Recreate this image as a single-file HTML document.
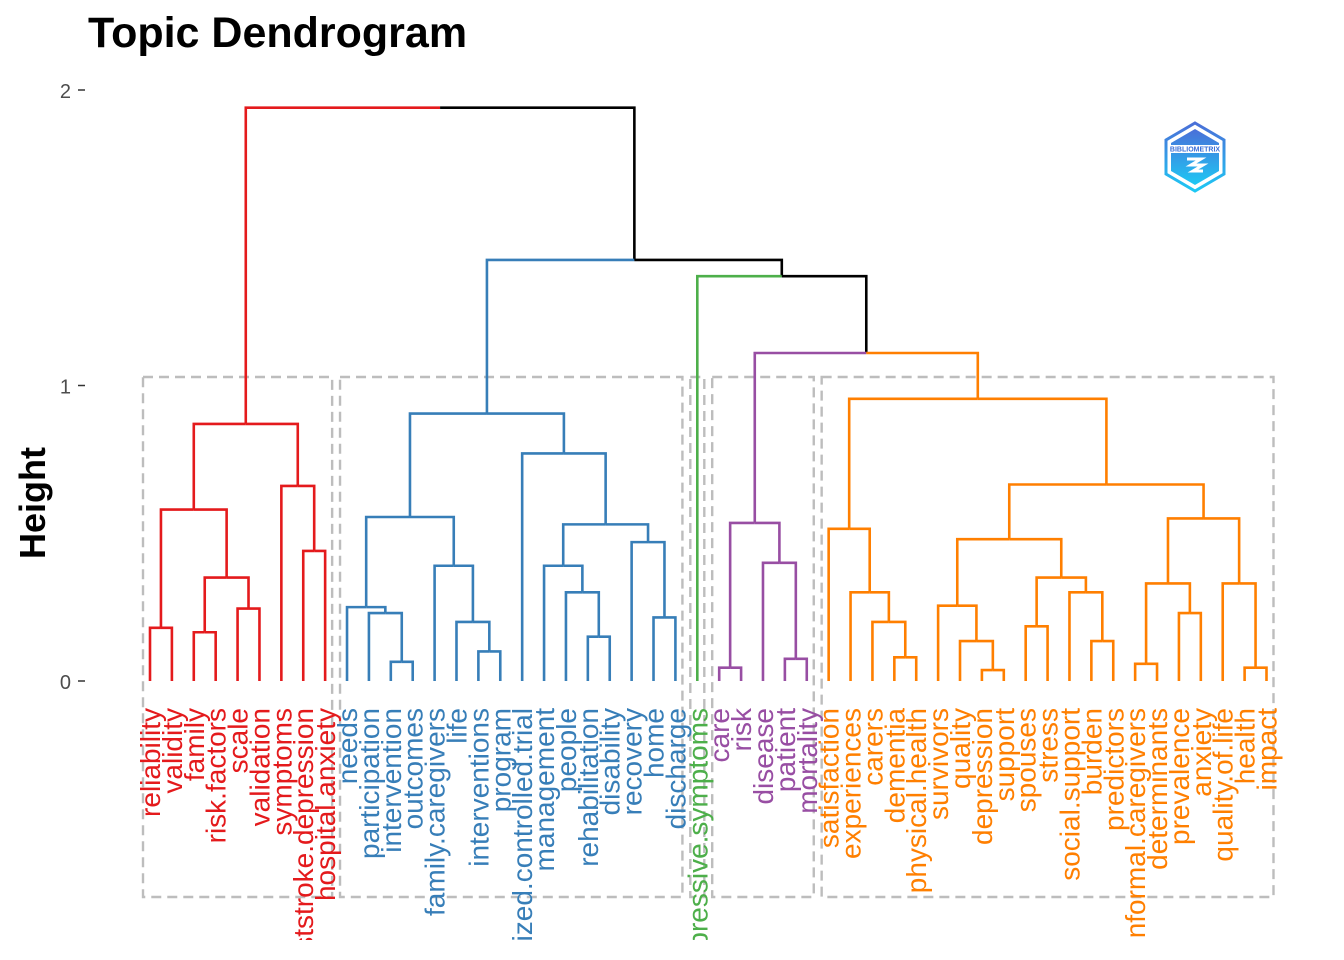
<!DOCTYPE html>
<html><head><meta charset="utf-8"><style>
html,body{margin:0;padding:0;background:#fff;width:1344px;height:960px;overflow:hidden;}
svg{display:block;font-family:"Liberation Sans",Arial,sans-serif;}
</style></head><body>
<svg id="chart" width="1344" height="960" viewBox="0 0 1344 960" xmlns="http://www.w3.org/2000/svg">
<defs><clipPath id="clip"><rect x="0" y="0" width="1344" height="940"/></clipPath>
<linearGradient id="lg" x1="0" y1="0" x2="0" y2="1"><stop offset="0" stop-color="#4a6fd8"/><stop offset="1" stop-color="#1ec8f4"/></linearGradient></defs>
<text x="88" y="47" font-size="43" font-weight="bold" fill="#000">Topic Dendrogram</text>
<text transform="translate(45,503) rotate(-90)" text-anchor="middle" font-size="36" font-weight="bold" fill="#000">Height</text>
<g id="axis"></g>
<g id="boxes"></g>
<g id="tree"></g>
<g id="labels" clip-path="url(#clip)"></g>
<g transform="translate(1195,157)">
<polygon points="0,-34 29,-17 29,17 0,34 -29,17 -29,-17" fill="none" stroke="url(#lg)" stroke-width="3"/>
<polygon points="0,-28 24,-14 24,14 0,28 -24,14 -24,-14" fill="url(#lg)"/>
<rect x="-27" y="-12" width="54" height="8" fill="#fff"/>
<text x="0" y="-5.5" font-size="7" font-weight="bold" text-anchor="middle" fill="#3a6fd8">BIBLIOMETRIX</text>
<path d="M-8,2 h14 l-10,6 h12 l-10,6 h10" fill="none" stroke="#fff" stroke-width="3"/>
</g>
</svg>
<script>
const tickValues = [0, 1, 2];
const tickLabels = ["0", "1", "2"];
const clusterColors = ["#E41A1C", "#377EB8", "#4DAF4A", "#984EA3", "#FF7F00"];
const redTree = [[["reliability","validity",0.18],[["family","risk.factors",0.165],["scale","validation",0.245],0.35],0.58],["symptoms",["poststroke.depression","hospital.anxiety",0.44],0.66],0.87];
const blueTree = [[["needs",["participation",["intervention","outcomes",0.065],0.23],0.25],["family.caregivers",["life",["interventions","program",0.1],0.2],0.39],0.555],["randomized.controlled.trial",[["management",["people",["rehabilitation","disability",0.15],0.30],0.39],["recovery",["home","discharge",0.215],0.47],0.53],0.77],0.905];
const greenTree = "depressive.symptoms";
const purpleTree = [["care","risk",0.045],["disease",["patient","mortality",0.075],0.40],0.535];
const orangeTree = [["satisfaction",["experiences",["carers",["dementia","physical.health",0.08],0.2],0.30],0.515],[[["survivors",["quality",["depression","support",0.037],0.135],0.255],[["spouses","stress",0.185],["social.support",["burden","predictors",0.135],0.30],0.35],0.48],[[["informal.caregivers","determinants",0.058],["prevalence","anxiety",0.23],0.33],["quality.of.life",["health","impact",0.045],0.33],0.55],0.665],0.955];
const upperHeights = [1.11, 1.37, 1.425, 1.94];

const NS = "http://www.w3.org/2000/svg";
const x0 = 150, x1 = 1266.5, y0 = 681, yPerUnit = 295.5;
const yScale = v => y0 - v * yPerUnit;
function mk(tag, attrs, parent){ const e = document.createElementNS(NS, tag); for (const k in attrs) e.setAttribute(k, attrs[k]); parent.appendChild(e); return e; }

const clusters = [redTree, blueTree, greenTree, purpleTree, orangeTree];
const root = [redTree, [blueTree, [greenTree, [purpleTree, orangeTree, upperHeights[0]], upperHeights[1]], upperHeights[2]], upperHeights[3]];

const leafCluster = {};
const leaves = [];
function collect(n, c){ if (typeof n === "string"){ leaves.push(n); leafCluster[n] = c; return; } collect(n[0], c); collect(n[1], c); }
clusters.forEach((t, i) => collect(t, i));
const step = (x1 - x0) / (leaves.length - 1);
const xScale = name => x0 + leaves.indexOf(name) * step;

function layout(n){
  if (typeof n === "string") return {x: xScale(n), h: 0, c: leafCluster[n]};
  const a = layout(n[0]), b = layout(n[1]);
  const c = (a.c === b.c) ? a.c : -1;
  return {x: (a.x + b.x) / 2, h: n[2], c: c, a: a, b: b};
}
const L = layout(root);
const tree = document.getElementById("tree");
function draw(nd){
  if (!nd.a) return;
  const yt = yScale(nd.h);
  [nd.a, nd.b].forEach(ch => {
    const colour = nd.c >= 0 ? clusterColors[nd.c] : (ch.c >= 0 ? clusterColors[ch.c] : "#000");
    const p = mk("path", {d: `M${ch.x},${yScale(ch.h)} V${yt} H${nd.x}`, fill: "none", stroke: colour, "stroke-width": 2.6}, tree);
    
    
    draw(ch);
  });
}
draw(L);

const axis = document.getElementById("axis");
tickValues.forEach((v, i) => {
  const y = yScale(v);
  const t = mk("line", {x1: 78, x2: 85, y1: y, y2: y, stroke: "#333", "stroke-width": 1.5}, axis);
  
  
  const tx = mk("text", {x: 71, y: y + 8, "text-anchor": "end", "font-size": 20, fill: "#4d4d4d"}, axis);
  tx.textContent = tickLabels[i];
  
  
});

const boxes = document.getElementById("boxes");
clusters.forEach((t, i) => {
  const members = leaves.filter(l => leafCluster[l] === i);
  const xa = xScale(members[0]) - 7, xb = xScale(members[members.length - 1]) + 7;
  const r = mk("rect", {x: xa, y: 377, width: xb - xa, height: 520, fill: "none", stroke: "#bdbdbd", "stroke-width": 2.4, "stroke-dasharray": "10,6"}, boxes);
  
  
});

const labels = document.getElementById("labels");
leaves.forEach(l => {
  const x = xScale(l) + 10, y = 708;
  const t = mk("text", {transform: `translate(${x},${y}) rotate(-90)`, "text-anchor": "end", "font-size": 28, fill: clusterColors[leafCluster[l]]}, labels);
  t.textContent = l;
  
  
});
</script>
</body></html>
